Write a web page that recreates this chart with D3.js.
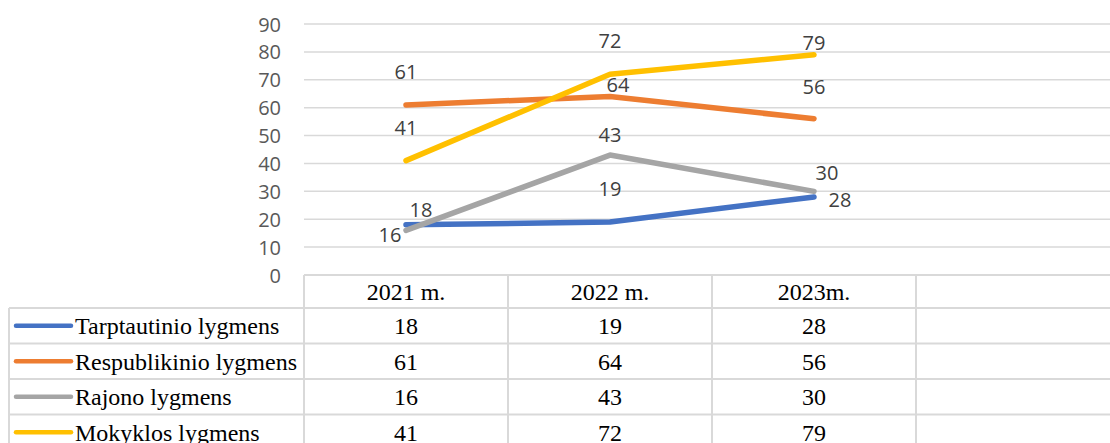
<!DOCTYPE html>
<html>
<head>
<meta charset="utf-8">
<script src="https://cdn.jsdelivr.net/npm/d3@7"></script>
<style>
  body { margin: 0; background: #fff; }
</style>
</head>
<body>
<div id="chart"></div>
<script>
// data
var categories = ["2021 m.", "2022 m.", "2023m.", " "];
var seriesNames = ["Tarptautinio lygmens", "Respublikinio lygmens", "Rajono lygmens", "Mokyklos lygmens"];
var tarptautinio = [18, 19, 28];
var respublikinio = [61, 64, 56];
var rajono = [16, 43, 30];
var mokyklos = [41, 72, 79];
var yTicks = [0, 10, 20, 30, 40, 50, 60, 70, 80, 90];

var colors = ["#4472C4", "#ED7D31", "#A5A5A5", "#FFC000"];
// label nudges (dx, dy) relative to each point, as Excel placed them
var labelShift = [
  [[15, -15], [0, -33], [26, 3]],
  [[0, -33], [8, -12], [0, -32]],
  [[-16, 5], [0, -20], [13, -18]],
  [[0, -33], [0, -33], [0, -12]]
];

var series = [tarptautinio, respublikinio, rajono, mokyklos];

var width = 1110, height = 443;
var plotLeft = 304, plotRight = 1120, plotTop = 24, plotBottom = 275;
var rowH = 35.5, headerH = 33;
var serif = "'Liberation Serif', 'Times New Roman', serif";
var serifSize = "24px";

var svg = d3.select("#chart")
  .append("svg")
    .attr("width", width)
    .attr("height", height);

var x = d3.scaleBand()
  .domain(categories)
  .range([plotLeft, plotRight])
  .padding(0);

var y = d3.scaleLinear()
  .domain([0, 90])
  .range([plotBottom, plotTop]);

// gridlines
svg.append("g")
  .selectAll("line")
  .data(yTicks.filter(function(d) { return d > 0; }))
  .enter()
  .append("line")
    .attr("x1", plotLeft)
    .attr("x2", plotRight)
    .attr("y1", function(d) { return y(d); })
    .attr("y2", function(d) { return y(d); })
    .attr("stroke", "#d9d9d9")
    .attr("stroke-width", 1.5);

// y axis labels
var yAxis = svg.append("g")
  .attr("transform", "translate(" + (plotLeft - 23) + ",0)")
  .call(d3.axisLeft(y).tickValues(yTicks).tickSize(0).tickPadding(0));
yAxis.select(".domain").remove();
yAxis.selectAll("text")
  .attr("font-family", "'Open Sans', sans-serif")
  .attr("font-size", "20px")
  .attr("fill", "#595959")
  .attr("dy", "0.35em");

// lines
var line = d3.line()
  .x(function(d, i) { return x(categories[i]) + x.bandwidth() / 2; })
  .y(function(d) { return y(d); });

svg.append("g")
  .selectAll("path")
  .data(series)
  .enter()
  .append("path")
    .attr("d", line)
    .attr("fill", "none")
    .attr("stroke", function(d, i) { return colors[i]; })
    .attr("stroke-width", 5.5)
    .attr("stroke-linecap", "round")
    .attr("stroke-linejoin", "round");

// data labels
series.forEach(function(vals, s) {
  svg.append("g")
    .selectAll("text")
    .data(vals)
    .enter()
    .append("text")
      .attr("x", function(d, i) { return x(categories[i]) + x.bandwidth() / 2 + labelShift[s][i][0]; })
      .attr("y", function(d, i) { return y(d) + labelShift[s][i][1]; })
      .attr("dy", "0.35em")
      .attr("text-anchor", "middle")
      .attr("font-family", "'Open Sans', sans-serif")
      .attr("font-size", "20px")
      .attr("fill", "#404040")
      .text(function(d) { return d; });
});

// data table
var table = svg.append("g");
var tableTop = plotBottom;
var rowTop = function(r) { return tableTop + headerH + r * rowH; };
var gridColor = "#d9d9d9";
var legendLeft = 9;

// horizontal borders
table.append("line")
  .attr("x1", plotLeft).attr("x2", plotRight)
  .attr("y1", tableTop).attr("y2", tableTop)
  .attr("stroke", gridColor).attr("stroke-width", 2);
for (var r = 0; r <= seriesNames.length; r++) {
  table.append("line")
    .attr("x1", legendLeft).attr("x2", plotRight)
    .attr("y1", rowTop(r)).attr("y2", rowTop(r))
    .attr("stroke", gridColor).attr("stroke-width", 2);
}
// vertical borders
table.append("line")
  .attr("x1", legendLeft).attr("x2", legendLeft)
  .attr("y1", rowTop(0)).attr("y2", rowTop(seriesNames.length))
  .attr("stroke", gridColor).attr("stroke-width", 2);
categories.forEach(function(c) {
  table.append("line")
    .attr("x1", x(c)).attr("x2", x(c))
    .attr("y1", tableTop).attr("y2", rowTop(seriesNames.length))
    .attr("stroke", gridColor).attr("stroke-width", 2);
});

// header
table.selectAll(".hdr")
  .data(categories)
  .enter()
  .append("text")
    .attr("class", "hdr")
    .attr("x", function(d) { return x(d) + x.bandwidth() / 2; })
    .attr("y", tableTop + headerH / 2)
    .attr("dy", "0.35em")
    .attr("text-anchor", "middle")
    .attr("font-family", serif)
    .attr("font-size", serifSize)
    .attr("fill", "#000")
    .text(function(d) { return d; });

// rows
seriesNames.forEach(function(name, s) {
  var cy = rowTop(s) + rowH / 2;
  table.append("line")
    .attr("x1", 16).attr("x2", 71)
    .attr("y1", cy).attr("y2", cy)
    .attr("stroke", colors[s])
    .attr("stroke-width", 4.5)
    .attr("stroke-linecap", "round");
  table.append("text")
    .attr("x", 75)
    .attr("y", cy)
    .attr("dy", "0.35em")
    .attr("font-family", serif)
    .attr("font-size", serifSize)
    .attr("fill", "#000")
    .text(name);
  table.append("g")
    .selectAll("text")
    .data(series[s])
    .enter()
    .append("text")
      .attr("x", function(d, i) { return x(categories[i]) + x.bandwidth() / 2; })
      .attr("y", cy)
      .attr("dy", "0.35em")
      .attr("text-anchor", "middle")
      .attr("font-family", serif)
      .attr("font-size", serifSize)
      .attr("fill", "#000")
      .text(function(d) { return d; });
});
</script>
</body>
</html>
